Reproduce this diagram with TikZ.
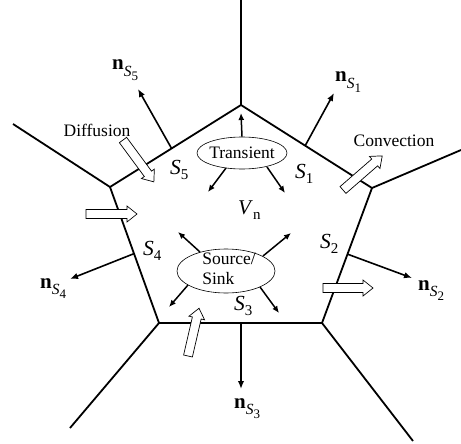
\documentclass[tikz,border=0pt]{standalone}
\usepackage{fontspec}
\setmainfont{Liberation Serif}
\usetikzlibrary{arrows.meta,calc,shapes.geometric}
\newcommand\nlab[1]{\fontsize{21}{21}\selectfont\textbf{n}\raisebox{-0.3em}{\fontsize{15.5}{15.5}\selectfont\textit{S}\raisebox{-0.3em}{\fontsize{13}{13}\selectfont #1}}}
\newcommand\slab[1]{\fontsize{21.5}{21.5}\selectfont\textit{S}\raisebox{-0.25em}{\fontsize{15}{15}\selectfont #1}}
\begin{document}
\begin{tikzpicture}[x=1pt,y=-1pt,
  edge/.style={line width=1.8pt},
  normal/.style={line width=1.6pt,-{Latex[length=8pt,width=6.5pt]}},
  small/.style={line width=1.5pt,-{Latex[length=7pt,width=6pt]}},
  txt/.style={font=\fontsize{17.5}{20}\selectfont, inner sep=0pt},
  lab/.style={inner sep=0pt, anchor=base west},
  barrow/.pic={\draw[line width=0.7pt, fill=white] (0,-4.5) -- (#1-10,-4.5) -- (#1-10,-8) -- (#1,0) -- (#1-10,8) -- (#1-10,4.5) -- (0,4.5) -- cycle;}]
\useasboundingbox (0,0) rectangle (461,444);
% pentagon vertices
\coordinate (T) at (241,105);
\coordinate (R) at (372,188);
\coordinate (BR) at (322,323);
\coordinate (BL) at (159,323);
\coordinate (L) at (110,187);
% outer ends
\coordinate (TE) at (241,0);
\coordinate (RE) at (461,150);
\coordinate (BRE) at (413,441);
\coordinate (BLE) at (70,428);
\coordinate (LE) at (13,124);
\draw[edge, line join=miter] (T) -- (R) -- (BR) -- (BL) -- (L) -- cycle;
\draw[edge] (T) -- (TE);
\draw[edge] (R) -- (RE);
\draw[edge] (BR) -- (BRE);
\draw[edge] (BL) -- (BLE);
\draw[edge] (L) -- (LE);
% normals
\coordinate (b5) at ($(L)!0.47!(T)$);
\coordinate (b1) at ($(T)!0.49!(R)$);
\coordinate (b2) at ($(R)!0.49!(BR)$);
\coordinate (b3) at ($(BL)!0.503!(BR)$);
\coordinate (b4) at ($(L)!0.49!(BL)$);
\coordinate (t5) at (138,89);
\coordinate (t1) at (334,93);
\coordinate (t2) at (412,278);
\coordinate (t3) at (241,389);
\coordinate (t4) at (70,279);
\draw[normal] (b5) -- (t5);
\draw[normal] (b1) -- (t1);
\draw[normal] (b2) -- (t2);
\draw[normal] (b3) -- (t3);
\draw[normal] (b4) -- (t4);
\node[lab] (n5) at (112,70) {\nlab{5}};
\node[lab] (n1) at (335,82) {\nlab{1}};
\node[lab] (n2) at (418,290) {\nlab{2}};
\node[lab] (n3) at (234,408) {\nlab{3}};
\node[lab] (n4) at (40,288) {\nlab{4}};
% face labels
\node[lab] (s5) at (170,174) {\slab{5}};
\node[lab] (s1) at (295,178) {\slab{1}};
\node[lab] (s2) at (320,248) {\slab{2}};
\node[lab] (s3) at (234,310) {\slab{3}};
\node[lab] (s4) at (143,255) {\slab{4}};
\node[lab] (vn) at (238,214) {\fontsize{21}{21}\selectfont\textit{V}\raisebox{-0.25em}{\fontsize{15}{15}\selectfont n}};
% ellipses
\node[draw, ellipse, line width=0.6pt, minimum width=90, minimum height=32, inner sep=0pt] (tr) at (242,153) {};
\node[txt] (trt) at (tr.center) {Transient};
\node[draw, ellipse, line width=0.6pt, minimum width=98, minimum height=44, inner sep=0pt] (ss) at (226,271) {};
\node[txt, align=left] (sst) at (229,269) {Source/\\Sink};
% small arrows
\coordinate (a1) at (241,113);
\coordinate (a2) at (208,192);
\coordinate (a3) at (285,193);
\draw[small] (tr.north) -- (a1);
\draw[small] (226,168) -- (a2);
\draw[small] (267,167) -- (a3);
\coordinate (c1) at (178,232);
\coordinate (c2) at (291,233);
\coordinate (c3) at (169,307);
\coordinate (c4) at (279,313);
\draw[small] (200,252) -- (c1);
\draw[small] (263,256) -- (c2);
\draw[small] (188,285) -- (c3);
\draw[small] (260,287) -- (c4);
% block arrows
\pic[rotate=-53.6] at (123,140) {barrow=52};
\pic at (86,214) {barrow=51};
\pic at (323,288) {barrow=50};
\pic[rotate=41] at (343,190) {barrow=52};
\pic[rotate=77] at (188,356) {barrow=49};
\node[txt] (diff) at (97,130) {Diffusion};
\node[txt] (conv) at (394,141) {Convection};
\end{tikzpicture}
\end{document}
